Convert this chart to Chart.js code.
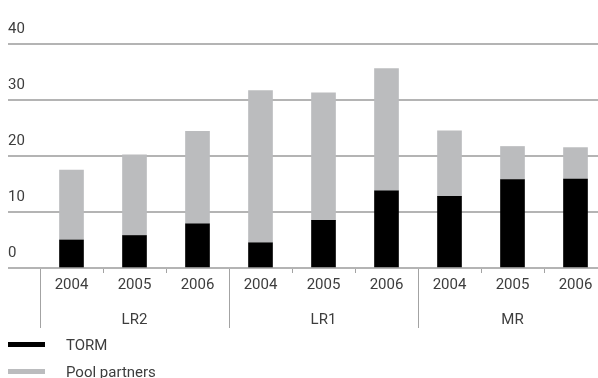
<!DOCTYPE html>
<html>
<head>
<meta charset="utf-8">
<script src="https://cdn.jsdelivr.net/npm/chart.js@4/dist/chart.umd.min.js"></script>
<style>
  html, body { margin: 0; padding: 0; background: #fff; overflow: hidden; }
  #wrap { position: relative; width: 607px; height: 378px; }
  #chart { display: block; }
  #legend { position: absolute; left: 8px; top: 331px; font: 15px Roboto, sans-serif; color: #3d3d3d; }
  #legend .item { display: flex; align-items: center; height: 27px; }
  #legend .swatch { width: 37px; height: 5px; margin-right: 21px; }
</style>
</head>
<body>
<div id="wrap">
  <canvas id="chart" width="607" height="378"></canvas>
  <div id="legend"></div>
</div>
<script>
/* ── Data ─────────────────────────────────────────────────────────── */
var years = ["2004", "2005", "2006", "2004", "2005", "2006", "2004", "2005", "2006"];
var groups = ["LR2", "LR1", "MR"];
var torm = [5.0, 5.8, 7.9, 4.5, 8.5, 13.8, 12.8, 15.8, 15.9];
var poolPartners = [12.5, 14.4, 16.5, 27.2, 22.8, 21.8, 11.7, 5.9, 5.6];
var yTicks = [0, 10, 20, 30, 40];

/* ── Styles ───────────────────────────────────────────────────────── */
var TEXT = "#3d3d3d";
var GRID = "#b4b4b4";
var TICK = "#a3a3a3";
var BLACK = "#000000";
var GREY = "#bbbcbe";
var FONT = { family: "Roboto, sans-serif", size: 15 };

// year on the first line, vessel class under the middle year of each group
var axisLabels = years.map(function (y, i) {
  return i % 3 === 1 ? [y, groups[(i - 1) / 3]] : [y];
});

/* ── Chart ────────────────────────────────────────────────────────── */
var ctx = document.getElementById("chart").getContext("2d");

new Chart(ctx, {
  type: "bar",
  data: {
    labels: years,
    datasets: [
      { label: "TORM", data: torm, backgroundColor: BLACK, barThickness: 24, xAxisID: "x" },
      { label: "Pool partners", data: poolPartners, backgroundColor: GREY, barThickness: 24, xAxisID: "x" },
    ],
  },
  options: {
    responsive: false,
    animation: false,
    layout: { padding: { left: 8, top: 44, right: 0, bottom: 50 } },
    plugins: { legend: { display: false }, tooltip: { enabled: false } },
    scales: {
      // short tick marks between every year
      x: {
        stacked: true,
        offset: true,
        weight: 0,
        grid: { offset: true, drawOnChartArea: false, tickLength: 5, tickColor: TICK, tickWidth: 1 },
        border: { display: false },
        ticks: { display: false },
        afterFit: function (s) { s.height = 5; },
      },
      // labels plus long separators between vessel classes
      xLabels: {
        type: "category",
        labels: axisLabels,
        position: "bottom",
        offset: true,
        weight: 1,
        grid: {
          offset: true,
          drawOnChartArea: false,
          tickLength: 55,
          tickWidth: 1,
          tickColor: function (c) {
            return (c.index === undefined || c.index % 3 === 0) ? TICK : "rgba(0,0,0,0)";
          },
        },
        border: { display: false },
        ticks: {
          color: TEXT,
          font: { family: FONT.family, size: FONT.size, lineHeight: 35 / 15 },
          padding: -60,
          autoSkip: false,
          maxRotation: 0,
        },
        afterFit: function (s) { s.height = 55; },
      },
      y: {
        stacked: true,
        min: yTicks[0],
        max: yTicks[yTicks.length - 1],
        afterBuildTicks: function (s) { s.ticks = yTicks.map(function (v) { return { value: v }; }); },
        grid: { color: GRID, lineWidth: 2, tickLength: 32, tickColor: GRID, tickWidth: 2 },
        border: { display: false },
        ticks: { color: TEXT, font: FONT, padding: 0, crossAlign: "far", labelOffset: -15 },
        afterFit: function (s) { s.width = 32; },
      },
    },
  },
});

/* ── Legend ───────────────────────────────────────────────────────── */
var legendItems = [["TORM", BLACK], ["Pool partners", GREY]];
document.getElementById("legend").innerHTML = legendItems.map(function (it) {
  return '<div class="item"><span class="swatch" style="background:' + it[1] + '"></span>' + it[0] + '</div>';
}).join("");
</script>
</body>
</html>
